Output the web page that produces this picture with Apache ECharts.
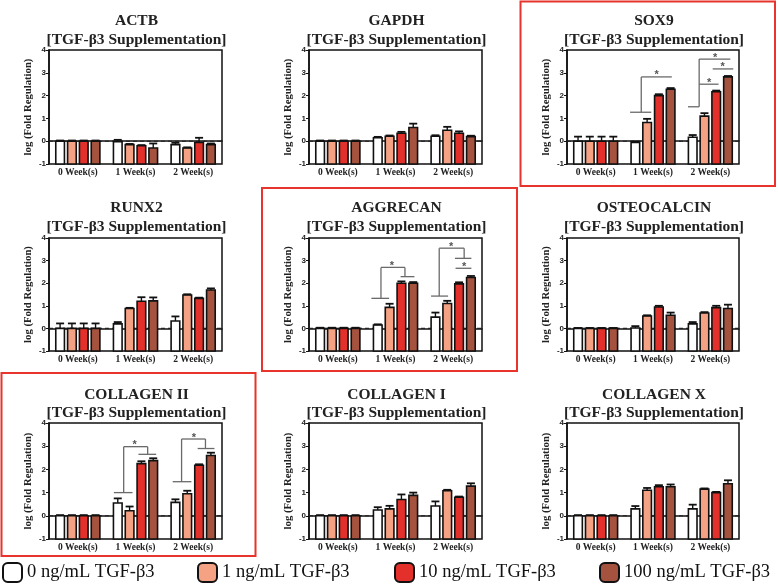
<!DOCTYPE html>
<html><head><meta charset="utf-8">
<script src="https://cdn.jsdelivr.net/npm/echarts@6/dist/echarts.min.js"></script>
<style>html,body{margin:0;padding:0;background:#fff}#c{width:778px;height:585px}</style>
</head><body><div id="c"></div>
<script>
// ---------- data ----------
const weeks = ['0 Week(s)', '1 Week(s)', '2 Week(s)'];
const doses = ['0 ng/mL TGF-β3', '1 ng/mL TGF-β3', '10 ng/mL TGF-β3', '100 ng/mL TGF-β3'];
const genes = ['ACTB', 'GAPDH', 'SOX9', 'RUNX2', 'AGGRECAN', 'OSTEOCALCIN', 'COLLAGEN II', 'COLLAGEN I', 'COLLAGEN X'];
const subtitle = '[TGF-β3 Supplementation]';
const yTicks = [-1, 0, 1, 2, 3, 4];

// mean log(fold regulation): rows = dose (0,1,10,100 ng/mL), columns = week (0,1,2)
const actbMean = [[0, -0.02, -0.15], [0, -0.15, -0.3], [0, -0.2, -0.05], [0, -0.3, -0.15]];
const actbErr  = [[0.03, 0.08, 0.08], [0.03, 0.03, 0.03], [0.03, 0.03, 0.2], [0.03, 0.2, 0.05]];
const gapdhMean = [[0, 0.15, 0.22], [0, 0.22, 0.48], [0, 0.35, 0.35], [0, 0.6, 0.2]];
const gapdhErr  = [[0.03, 0.04, 0.04], [0.03, 0.03, 0.15], [0.03, 0.06, 0.08], [0.03, 0.17, 0.04]];
const sox9Mean = [[0, -0.05, 0.17], [0, 0.82, 1.1], [0, 2.0, 2.17], [0, 2.28, 2.82]];
const sox9Err  = [[0.2, 0.03, 0.1], [0.2, 0.16, 0.13], [0.2, 0.06, 0.05], [0.2, 0.05, 0.04]];
const runx2Mean = [[0, 0.2, 0.33], [0, 0.88, 1.48], [0, 1.2, 1.33], [0, 1.22, 1.7]];
const runx2Err  = [[0.22, 0.08, 0.2], [0.22, 0.03, 0.03], [0.22, 0.18, 0.03], [0.22, 0.15, 0.07]];
const aggrecanMean = [[0, 0.15, 0.5], [0, 0.93, 1.1], [0, 2.0, 1.97], [0, 2.0, 2.25]];
const aggrecanErr  = [[0.03, 0.03, 0.2], [0.03, 0.16, 0.12], [0.03, 0.08, 0.07], [0.03, 0.05, 0.07]];
const osteocalcinMean = [[0, 0.02, 0.2], [0, 0.55, 0.68], [0, 0.95, 0.92], [0, 0.58, 0.88]];
const osteocalcinErr  = [[0.02, 0.08, 0.08], [0.02, 0.03, 0.04], [0.02, 0.05, 0.08], [0.02, 0.12, 0.17]];
const col2Mean = [[0, 0.55, 0.58], [0, 0.22, 0.95], [0, 2.25, 2.18], [0, 2.38, 2.6]];
const col2Err  = [[0.03, 0.2, 0.13], [0.03, 0.18, 0.13], [0.03, 0.1, 0.04], [0.03, 0.1, 0.12]];
const col1Mean = [[0, 0.25, 0.42], [0, 0.3, 1.08], [0, 0.7, 0.8], [0, 0.88, 1.28]];
const col1Err  = [[0.03, 0.12, 0.2], [0.03, 0.13, 0.04], [0.03, 0.22, 0.03], [0.03, 0.12, 0.12]];
const col10Mean = [[0, 0.3, 0.3], [0, 1.1, 1.15], [0, 1.25, 1.0], [0, 1.25, 1.38]];
const col10Err  = [[0.03, 0.12, 0.18], [0.03, 0.1, 0.03], [0.03, 0.07, 0.03], [0.03, 0.1, 0.15]];

// significance brackets: [week, barSlotFrom, value, barSlotTo, value]; stars: [week, barSlot, value]
const sox9Lines = [
  [1, -0.45, 1.27, 1.35, 1.27], [1, 0.5, 1.27, 0.5, 2.82], [1, 0.5, 2.82, 3.1, 2.82],
  [2, -0.4, 1.51, 0.55, 1.51], [2, 0.55, 1.51, 0.55, 3.6], [2, 0.55, 3.6, 3.2, 3.6],
  [2, 0.55, 2.5, 2.2, 2.5], [2, 1.7, 3.17, 3.45, 3.17]
];
const sox9Stars = [[1, 1.8, 2.82], [2, 1.9, 3.6], [2, 1.4, 2.5], [2, 2.55, 3.17]];
const aggrecanLines = [
  [1, -0.54, 1.33, 0.96, 1.33], [1, 0.27, 1.33, 0.27, 2.7], [1, 0.27, 2.7, 2.3, 2.7],
  [1, 2.3, 2.7, 2.3, 2.29], [1, 1.93, 2.29, 3.1, 2.29],
  [2, -0.37, 1.43, 1.07, 1.43], [2, 0.32, 1.43, 0.32, 3.55], [2, 0.32, 3.55, 2.43, 3.55],
  [2, 2.43, 3.55, 2.43, 3.1], [2, 1.65, 3.1, 3.04, 3.1], [2, 1.7, 2.66, 3.04, 2.66]
];
const aggrecanStars = [[1, 1.2, 2.7], [2, 1.32, 3.55], [2, 2.43, 2.66]];
const col2Lines = [
  [1, -0.33, 1.0, 1.25, 1.0], [1, 0.5, 1.0, 0.5, 2.98], [1, 0.5, 2.98, 2.53, 2.98],
  [1, 2.53, 2.98, 2.53, 2.65], [1, 1.75, 2.65, 3.25, 2.65],
  [2, -0.23, 1.47, 1.35, 1.47], [2, 0.52, 1.47, 0.52, 3.31], [2, 0.52, 3.31, 2.54, 3.31],
  [2, 2.54, 3.31, 2.54, 2.9], [2, 1.88, 2.9, 3.3, 2.9]
];
const col2Stars = [[1, 1.42, 2.98], [2, 1.57, 3.31]];

const means = [actbMean, gapdhMean, sox9Mean, runx2Mean, aggrecanMean, osteocalcinMean, col2Mean, col1Mean, col10Mean];
const errs = [actbErr, gapdhErr, sox9Err, runx2Err, aggrecanErr, osteocalcinErr, col2Err, col1Err, col10Err];
const bracketLines = { 2: sox9Lines, 4: aggrecanLines, 6: col2Lines };
const bracketStars = { 2: sox9Stars, 4: aggrecanStars, 6: col2Stars };

// ---------- style / layout ----------
const COLORS = ['#ffffff', '#f4a283', '#e3302b', '#a5533f'];
const SERIF = '"Liberation Serif", "DejaVu Serif", serif';
const SANS = '"Liberation Sans", Arial, sans-serif';
const SP = 0.205;   // bar spacing (category units)
const BW = 0.15;    // bar width (category units)
const CAP = 4;
const colLeft = [49, 309, 567];
const colWidth = [173, 173, 172];
const rowTop = [50, 238, 423];
const rowHeight = [114, 113, 116];
const titleY = [[21, 39.5], [208, 226.7], [395, 413.3]];
const boxRects = [[520.5, 1.5, 254.5, 184.5], [262, 188, 255, 183], [1.5, 373, 254, 183]];
const legendLeft = [2, 197, 394, 599];

const grids = [], xAxes = [], yAxes = [], series = [], graphics = [];

function slotX(week, slot) { return week + 0.5 + (slot - 1.5) * SP; }

function barRender(k) {
  return function (params, api) {
    const w = api.value(0), v = api.value(1), e = api.value(2);
    const x = slotX(w, k);
    const top = api.coord([x, v]);
    const base = api.coord([x, -1]);
    const tip = api.coord([x, v + e]);
    const bw = api.size([BW, 0])[0];
    return {
      type: 'group', children: [
        { type: 'rect', shape: { x: top[0] - bw / 2, y: Math.min(top[1], base[1]), width: bw, height: Math.abs(base[1] - top[1]) },
          style: { fill: COLORS[k], stroke: '#111', lineWidth: 1.6 } },
        { type: 'line', shape: { x1: top[0], y1: top[1], x2: tip[0], y2: tip[1] }, style: { stroke: '#111', lineWidth: 1.4 } },
        { type: 'line', shape: { x1: tip[0] - CAP, y1: tip[1], x2: tip[0] + CAP, y2: tip[1] }, style: { stroke: '#111', lineWidth: 1.8 } }
      ]
    };
  };
}

genes.forEach((g, i) => {
  const r = Math.floor(i / 3), c = i % 3;
  grids.push({ left: colLeft[c], top: rowTop[r], width: colWidth[c], height: rowHeight[r],
    show: true, borderColor: '#111', borderWidth: 1.5, backgroundColor: 'transparent' });
  xAxes.push({ type: 'category', gridIndex: i, data: weeks, boundaryGap: true,
    axisLine: { lineStyle: { color: '#111', width: 1.5 } }, axisTick: { show: false },
    axisLabel: { fontFamily: SERIF, fontWeight: 'bold', fontSize: 9.5, color: '#222', margin: 4, interval: 0 },
    splitLine: { show: false } });
  xAxes.push({ type: 'value', gridIndex: i, min: 0, max: 3, show: false });
  yAxes.push({ type: 'value', gridIndex: i, min: yTicks[0], max: yTicks[yTicks.length - 1], interval: 1,
    axisLine: { show: true, lineStyle: { color: '#111', width: 1.5 } },
    axisTick: { show: true, length: 3, lineStyle: { color: '#111', width: 1 } },
    axisLabel: { fontFamily: SANS, fontWeight: 'bold', fontSize: 8, color: '#222', margin: 3 },
    splitLine: { show: false },
    name: 'log (Fold Regulation)', nameLocation: 'middle', nameGap: 15,
    nameTextStyle: { fontFamily: SERIF, fontWeight: 'bold', fontSize: 10.7, color: '#222' } });

  // dashed zero line
  series.push({ type: 'line', xAxisIndex: 2 * i + 1, yAxisIndex: i, data: [[0, 0], [3, 0]],
    symbol: 'none', silent: true, z: 1, lineStyle: { color: '#222', width: 1.1, type: [4, 3] } });

  for (let k = 0; k < 4; k++) {
    series.push({ type: 'custom', name: doses[k], xAxisIndex: 2 * i + 1, yAxisIndex: i, z: 3,
      itemStyle: { color: COLORS[k] }, silent: true,
      data: weeks.map((w, j) => [j, means[i][k][j], errs[i][k][j]]),
      renderItem: barRender(k) });
  }

  if (bracketLines[i]) {
    series.push({ type: 'custom', xAxisIndex: 2 * i + 1, yAxisIndex: i, z: 4, silent: true,
      data: bracketLines[i],
      renderItem: (p, api) => {
        const a = api.coord([slotX(api.value(0), api.value(1)), api.value(2)]);
        const b = api.coord([slotX(api.value(0), api.value(3)), api.value(4)]);
        return { type: 'line', shape: { x1: a[0], y1: a[1], x2: b[0], y2: b[1] }, style: { stroke: '#6a6a6a', lineWidth: 1.3 } };
      } });
    series.push({ type: 'custom', xAxisIndex: 2 * i + 1, yAxisIndex: i, z: 4, silent: true,
      data: bracketStars[i],
      renderItem: (p, api) => {
        const a = api.coord([slotX(api.value(0), api.value(1)), api.value(2)]);
        return { type: 'text', x: a[0], y: a[1] + 4, style: { text: '*', fill: '#555', font: 'bold 11px ' + SANS, align: 'center', verticalAlign: 'bottom' } };
      } });
  }

  const cx = colLeft[c] + colWidth[c] / 2 + 1;
  graphics.push({ type: 'text', x: cx, y: titleY[r][0], style: { text: g, fill: '#222', font: 'bold 15.5px ' + SERIF, align: 'center', verticalAlign: 'middle' } });
  graphics.push({ type: 'text', x: cx, y: titleY[r][1], style: { text: subtitle, fill: '#222', font: 'bold 15.5px ' + SERIF, align: 'center', verticalAlign: 'middle' } });
});

boxRects.forEach(b => {
  graphics.push({ type: 'rect', shape: { x: b[0], y: b[1], width: b[2], height: b[3] }, style: { fill: 'none', stroke: '#e8342d', lineWidth: 2 }, z: 10 });
});

const legends = doses.map((d, k) => ({
  left: legendLeft[k], top: 562, padding: 0, itemWidth: 19, itemHeight: 19, selectedMode: false,
  data: [{ name: d, icon: 'roundRect', itemStyle: { color: COLORS[k], borderColor: '#111', borderWidth: 2 } }],
  textStyle: { fontFamily: SERIF, fontSize: 18.5, color: '#111' }
}));

const chart = echarts.init(document.getElementById('c'), null, { renderer: 'canvas' });
chart.setOption({
  backgroundColor: '#ffffff',
  animation: false,
  grid: grids, xAxis: xAxes, yAxis: yAxes, series: series,
  legend: legends, graphic: graphics
});
</script></body></html>
